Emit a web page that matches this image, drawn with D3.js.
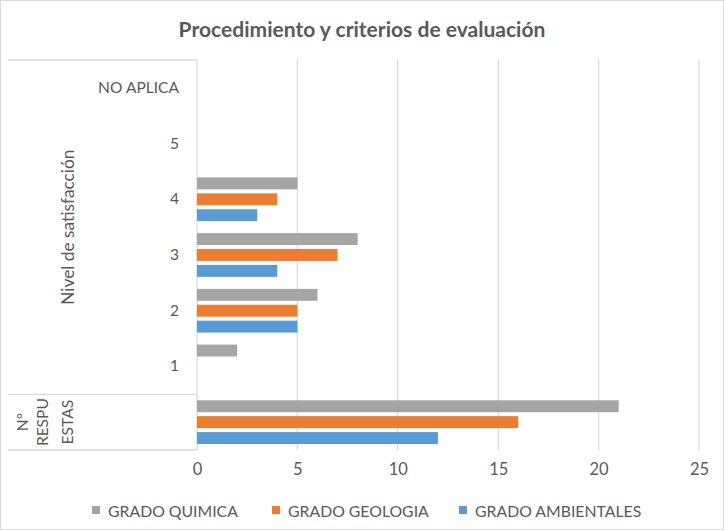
<!DOCTYPE html>
<html><head><meta charset="utf-8">
<script src="https://cdn.jsdelivr.net/npm/d3@7"></script>
<style>body{margin:0;background:#fff}</style></head>
<body>
<svg id="c" width="724" height="530"></svg>
<script>
const title = "Procedimiento y criterios de evaluación";
const categories = ["Nº RESPUESTAS", "1", "2", "3", "4", "5", "NO APLICA"];
const innerLabels = ["", "1", "2", "3", "4", "5", "NO APLICA"];
const groupNames = ["Nº RESPUESTAS", "Nivel de satisfacción"];
const groupLines = [["Nº", "RESPU", "ESTAS"], ["Nivel de satisfacción"]];
const groupMembers = [["Nº RESPUESTAS"], ["1", "2", "3", "4", "5", "NO APLICA"]];
const seriesNames = ["GRADO QUIMICA", "GRADO GEOLOGIA", "GRADO AMBIENTALES"];
const quimica = [21, 2, 6, 8, 5, 0, 0];
const geologia = [16, 0, 5, 7, 4, 0, 0];
const ambientales = [12, 0, 5, 4, 3, 0, 0];
const xTicks = [0, 5, 10, 15, 20, 25];
const colors = ["#A5A5A5", "#ED7D31", "#5B9BD5"];

const seriesValues = [quimica, geologia, ambientales];
const FONT = "Lato, 'Open Sans', sans-serif";
const TXT = "#595959";
const GRID = "#D9D9D9";

const svg = d3.select("#c");
svg.append("rect").attr("x", 0.5).attr("y", 0.5).attr("width", 723).attr("height", 529)
  .attr("fill", "#fff").attr("stroke", GRID);

function fit(sel, w) {
  const l = sel.node().getComputedTextLength();
  const fs = parseFloat(sel.attr("font-size"));
  sel.attr("font-size", fs * w / l);
  return fs * w / l;
}

const x = d3.scaleLinear().domain([0, 25]).range([197, 699]);
const y = d3.scaleBand().domain(categories.slice().reverse()).range([60, 450]).padding(0);
const ys = d3.scaleBand().domain(seriesNames).range([6, y.bandwidth() - 6]).paddingInner(0.25);

// title
const t = svg.append("text").attr("x", 362).attr("y", 37).attr("text-anchor", "middle")
  .attr("font-family", FONT).attr("font-weight", "bold").attr("font-size", 20)
  .attr("fill", TXT).text(title);
fit(t, 367);

// gridlines
svg.append("g").selectAll("line").data(xTicks).join("line")
  .attr("x1", d => x(d)).attr("x2", d => x(d))
  .attr("y1", 60).attr("y2", 450)
  .attr("stroke", GRID).attr("stroke-width", 1.3);

// x axis labels
const xa = svg.append("g").attr("transform", "translate(0,450)")
  .call(d3.axisBottom(x).tickValues(xTicks).tickSize(0).tickPadding(13).tickFormat(d3.format("d")));
xa.select(".domain").remove();
xa.selectAll("text").attr("font-family", FONT).attr("font-size", 16.5).attr("fill", TXT);

// bars
const rows = [];
categories.forEach((c, i) => seriesNames.forEach((s, j) => rows.push({c, s, v: seriesValues[j][i], col: colors[j]})));
svg.append("g").selectAll("rect").data(rows.filter(d => d.v > 0)).join("rect")
  .attr("x", x(0)).attr("y", d => y(d.c) + ys(d.s))
  .attr("width", d => x(d.v) - x(0)).attr("height", ys.bandwidth())
  .attr("fill", d => d.col);

// category axis
const ya = svg.append("g").attr("transform", "translate(179,0)")
  .call(d3.axisLeft(y).tickSize(0).tickPadding(0).tickFormat(d => innerLabels[categories.indexOf(d)]));
ya.select(".domain").remove();
ya.selectAll("text").attr("font-family", FONT).attr("font-size", 16).attr("fill", TXT)
  .attr("text-anchor", "end").attr("x", 0);
const naLabel = ya.selectAll("text").filter(d => d === "NO APLICA");
const catFs = fit(naLabel, 81);
ya.selectAll("text").attr("font-size", catFs);

// axis separator lines
const bounds = [y.range()[0], y(categories[0]), y.range()[1]];
svg.append("g").selectAll("line").data(bounds).join("line")
  .attr("x1", 8).attr("x2", x(0)).attr("y1", d => d).attr("y2", d => d)
  .attr("stroke", GRID).attr("stroke-width", 1.3);

// group labels
groupNames.forEach((g, gi) => {
  const mem = groupMembers[gi];
  const top = d3.min(mem, m => y(m));
  const bot = d3.max(mem, m => y(m) + y.bandwidth());
  const cy = (top + bot) / 2;
  const lines = groupLines[gi];
  const centers = lines.length === 1 ? [67] : [22, 42, 67];
  lines.forEach((ln, li) => {
    const tx = svg.append("text")
      .attr("transform", `translate(${centers[li]},${cy}) rotate(-90)`)
      .attr("text-anchor", "middle").attr("dominant-baseline", "central")
      .attr("font-family", FONT).attr("font-size", catFs).attr("fill", TXT).text(ln);
    if (lines.length === 1) fit(tx, 155);
  });
});

// legend
const legX = [92, 272, 459];
let legFs = null;
seriesNames.forEach((s, i) => {
  svg.append("rect").attr("x", legX[i]).attr("y", 506).attr("width", 8).attr("height", 8).attr("fill", colors[i]);
  const lt = svg.append("text").attr("x", legX[i] + 16).attr("y", 510).attr("dominant-baseline", "central")
    .attr("font-family", FONT).attr("font-size", 16).attr("fill", TXT).text(s);
  if (i === 0) legFs = fit(lt, 130); else lt.attr("font-size", legFs);
});
</script>
</body></html>
